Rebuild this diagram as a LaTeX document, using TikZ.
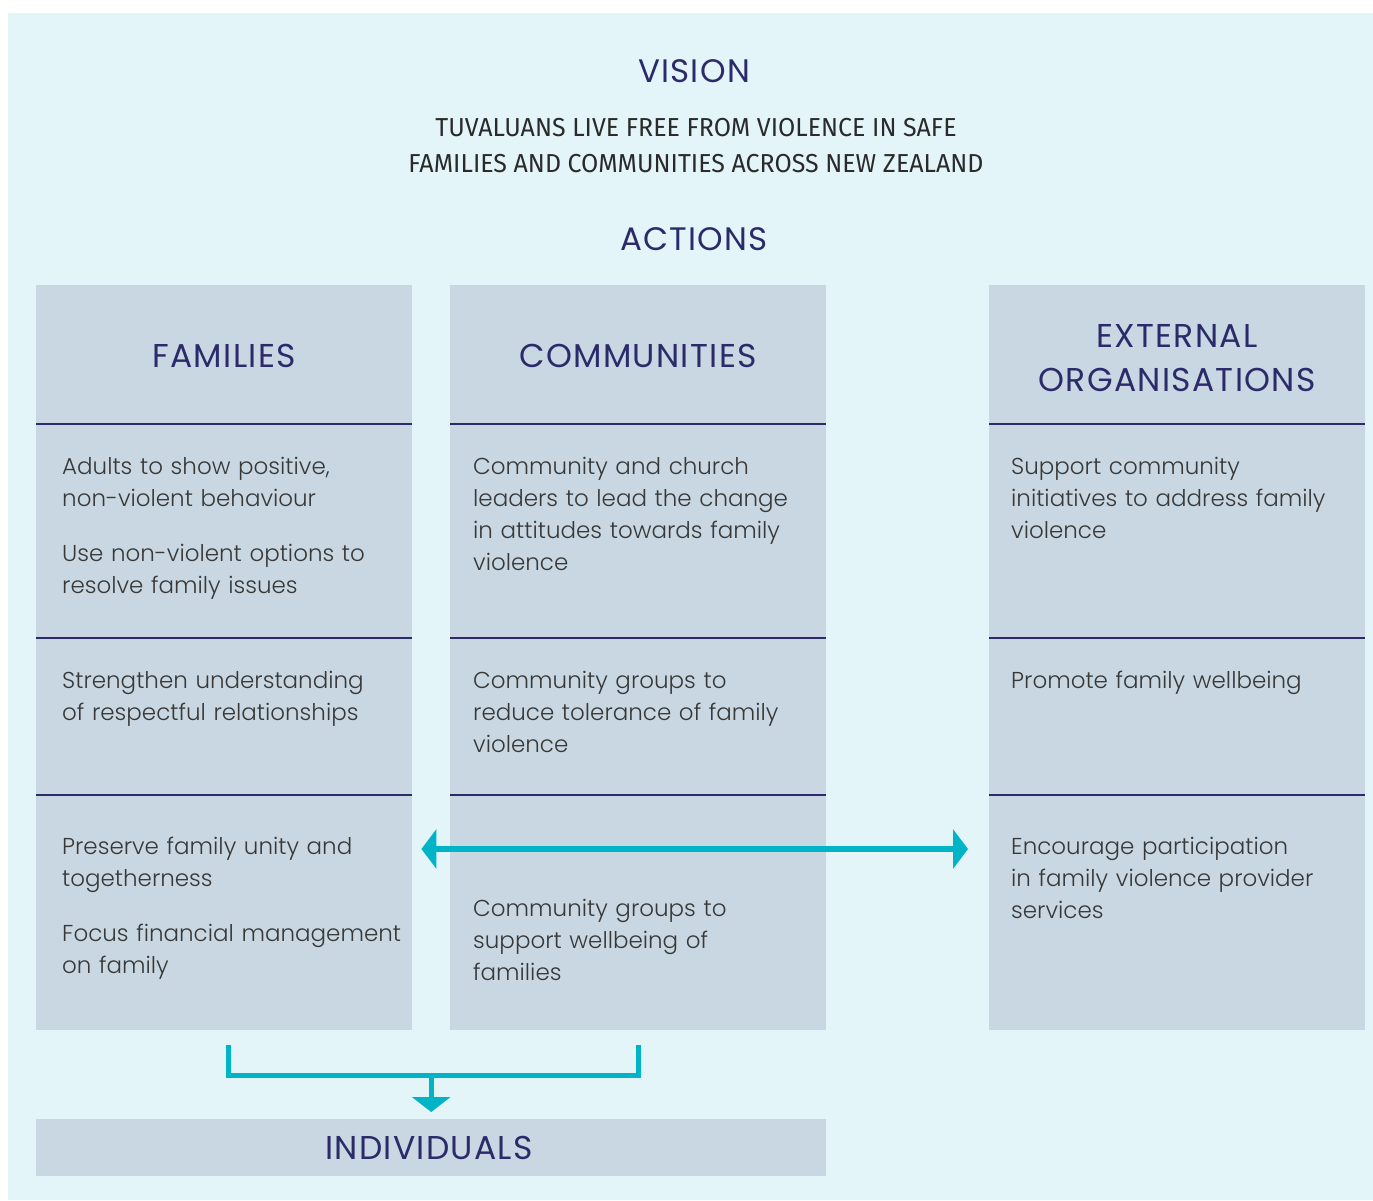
\documentclass[tikz,border=0pt]{standalone}
\usepackage{fontspec}
\setmainfont{Poppins Light}
\newfontfamily\headfont{Poppins}[LetterSpace=4]
\newfontfamily\visfont{Fira Sans}[FakeStretch=0.96]
\usetikzlibrary{arrows.meta}
\definecolor{bgcol}{HTML}{E3F5F9}
\definecolor{boxfill}{HTML}{C8D7E1}
\definecolor{navy}{HTML}{2B2A6A}
\definecolor{bodygray}{HTML}{383838}
\definecolor{visgray}{HTML}{2A2A2A}
\definecolor{cyanline}{HTML}{00B4C8}
\begin{document}
\begin{tikzpicture}[x=1pt,y=-1pt,
  colbox/.style={fill=boxfill,draw=none,inner sep=0pt,anchor=north west,minimum width=376,minimum height=745},
  divider/.style={draw=navy,line width=1.6pt},
  head/.style={inner sep=0pt,align=center,text=navy,font=\headfont\fontsize{33}{44}\selectfont},
  title/.style={inner sep=0pt,align=center,text=navy,font=\headfont\fontsize{32.5}{40}\selectfont},
  vis/.style={inner sep=0pt,align=center,text=visgray,font=\visfont\fontsize{26}{36}\selectfont},
  cell/.style={inner sep=0pt,anchor=base west,align=left,text width=345,text=bodygray,font=\fontsize{23}{32}\selectfont},
  link/.style={draw=cyanline,line width=6pt,line join=miter}]
\useasboundingbox (0,0) rectangle (1373,1200);
\fill[bgcol] (8,13) rectangle (1373,1200);

% titles
\node[title] (vision) at (694,71) {VISION};
\node[vis,anchor=base] (vistext) at (696,172) {TUVALUANS LIVE FREE FROM VIOLENCE IN SAFE\\FAMILIES AND COMMUNITIES ACROSS NEW ZEALAND};
\node[title] (actions) at (694,239) {ACTIONS};

% columns
\node[colbox] (fam) at (36,285) {};
\node[colbox] (com) at (450,285) {};
\node[colbox] (ext) at (989,285) {};

\foreach \xa/\xb in {36/412,450/826,989/1365}{
  \draw[divider] (\xa,424) -- (\xb,424);
  \draw[divider] (\xa,638) -- (\xb,638);
  \draw[divider] (\xa,795) -- (\xb,795);
}

% headings
\node[head] (famh) at (224,356) {FAMILIES};
\node[head] (comh) at (638,356) {COMMUNITIES};
\node[head] (exth) at (1177,358) {EXTERNAL\\ORGANISATIONS};

% families cells
\node[cell] (f1) at (62,474) {Adults to show positive,\\non-violent behaviour\\[23pt]Use non-violent options to\\resolve family issues};
\node[cell] (f2) at (62,688) {Strengthen understanding\\of respectful relationships};
\node[cell] (f3) at (62,854) {Preserve family unity and\\togetherness\\[23pt]Focus financial management\\on family};

% communities cells
\node[cell] (c1) at (473,474) {Community and church\\leaders to lead the change\\in attitudes towards family\\violence};
\node[cell] (c2) at (473,688) {Community groups to\\reduce tolerance of family\\violence};
\node[cell] (c3) at (473,916) {Community groups to\\support wellbeing of\\families};

% external cells
\node[cell] (e1) at (1011,474) {Support community\\initiatives to address family\\violence};
\node[cell] (e2) at (1011,688) {Promote family wellbeing};
\node[cell] (e3) at (1011,854) {Encourage participation\\in family violence provider\\services};

% individuals
\node[fill=boxfill,inner sep=0pt,minimum width=790,minimum height=57,anchor=north west] (ind) at (36,1119) {};
\node[title,font=\headfont\fontsize{33}{40}\selectfont] (indt) at (429,1148) {INDIVIDUALS};

% connectors
\coordinate (aL) at ([xshift=9pt]fam.east |- 0,849);
\coordinate (aR) at ([xshift=-21pt]ext.west |- 0,849);
\draw[link,{Triangle[length=15pt,width=39pt]}-{Triangle[length=15pt,width=39pt]}] (aL) -- (aR);

\coordinate (bL) at ([xshift=4pt,yshift=-15pt]fam.south);
\coordinate (bR) at ([yshift=-15pt]com.south);
\draw[link,line width=5pt] (bL) -- (bL |- 0,1075) -- (bR |- 0,1075) -- (bR);
\draw[link,line width=5pt,-{Triangle[length=15pt,width=38pt]},shorten >=7pt] (ind.north |- 0,1075) -- (ind.north);
\end{tikzpicture}
\end{document}
